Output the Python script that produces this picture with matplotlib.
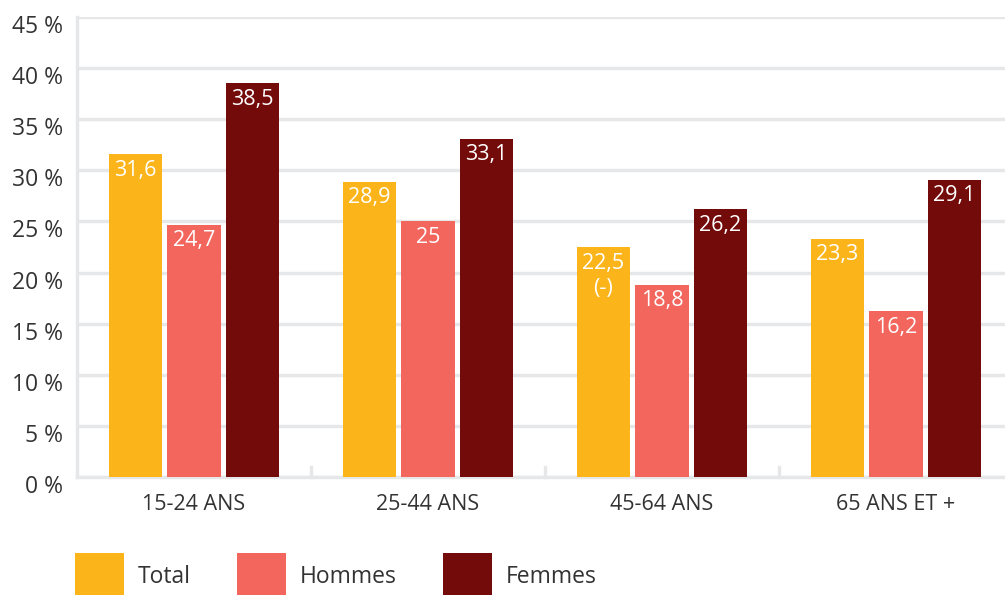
import numpy as np
import matplotlib.pyplot as plt
import matplotlib.transforms as mtransforms
from matplotlib.patches import Patch

plt.rcParams['font.family'] = ['Open Sans', 'DejaVu Sans']

groups = ['15-24 ANS', '25-44 ANS', '45-64 ANS', '65 ANS ET +']
series = ['Total', 'Hommes', 'Femmes']
total = [31.6, 28.9, 22.5, 23.3]
hommes = [24.7, 25.0, 18.8, 16.2]
femmes = [38.5, 33.1, 26.2, 29.1]
total_labels = ['31,6', '28,9', '22,5\n(-)', '23,3']
hommes_labels = ['24,7', '25', '18,8', '16,2']
femmes_labels = ['38,5', '33,1', '26,2', '29,1']

colors = ['#FBB51A', '#F2665E', '#720B0A']
grid_col = '#E6E7E9'
text_col = '#333333'
fs = 15.5

fig = plt.figure(figsize=(10.05, 5.95), dpi=100)
ax = fig.add_axes([77/1005, 118/595, 936/1005, 460/595])

x = np.arange(len(groups))
width = 0.227
step = 0.25
for i, (vals, labs) in enumerate(zip([total, hommes, femmes],
                                     [total_labels, hommes_labels, femmes_labels])):
    pos = x + (i - 1) * step
    ax.bar(pos, vals, width, color=colors[i], zorder=3)
    for xp, v, lab in zip(pos, vals, labs):
        ax.annotate(lab, (xp, v), xytext=(0, -4), textcoords='offset points',
                    ha='center', va='top', color='white', fontsize=fs,
                    linespacing=1.25, zorder=4)

ax.set_xlim(-0.5, len(groups) - 0.5)
ax.set_ylim(0, 45)
ax.set_yticks(np.arange(0, 46, 5))
ax.set_yticklabels([f'{v} %' for v in range(0, 46, 5)])
ax.set_xticks(x)
ax.set_xticklabels(groups)
ax.tick_params(axis='both', length=0, labelsize=fs, colors=text_col)
ax.tick_params(axis='x', pad=12)
ax.tick_params(axis='y', pad=10, labelsize=16.5)

# y labels sit a little below their gridlines
shift = mtransforms.ScaledTranslation(0, -7/100, fig.dpi_scale_trans)
for lab in ax.get_yticklabels():
    lab.set_transform(lab.get_transform() + shift)

ax.yaxis.grid(True, color=grid_col, linewidth=2.4, zorder=0)
for side in ['top', 'right']:
    ax.spines[side].set_visible(False)
for side in ['left', 'bottom']:
    ax.spines[side].set_color(grid_col)
    ax.spines[side].set_linewidth(2.4)

# small separators between the age groups
for b in x[1:] - 0.5:
    ax.plot([b, b], [0, 1.0], color=grid_col, linewidth=2.4, zorder=1,
            clip_on=False)

handles = [Patch(facecolor=c, edgecolor='none') for c in colors]
fig.legend(handles, series, loc='lower left', bbox_to_anchor=(54/1005, -0.04),
           ncol=3, frameon=False, fontsize=16.5, handlelength=2.14,
           handleheight=2.65, handletextpad=0.6, columnspacing=2.03,
           labelcolor=text_col)

fig.savefig('out.png', dpi=100)
